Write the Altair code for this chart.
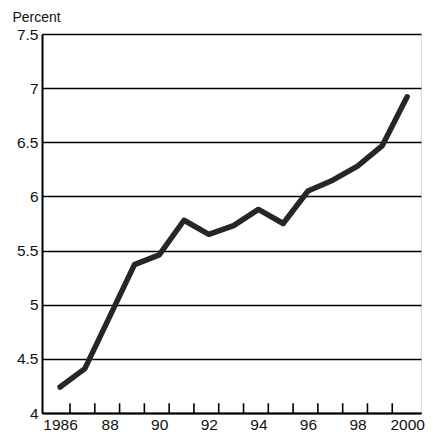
import altair as alt
import pandas as pd

years = [1986, 1987, 1988, 1989, 1990, 1991, 1992, 1993, 1994, 1995, 1996, 1997, 1998, 1999, 2000]
percent = [4.24, 4.41, 4.89, 5.37, 5.46, 5.78, 5.65, 5.73, 5.88, 5.75, 6.05, 6.15, 6.28, 6.47, 6.92]
tick_positions = [1986.4, 1987.4, 1988.4, 1989.4, 1990.4, 1991.4, 1992.4, 1993.4,
                  1994.4, 1995.4, 1996.4, 1997.4, 1998.4, 1999.4]
x_label_values = [1986, 1988, 1990, 1992, 1994, 1996, 1998, 2000]
y_values = [4, 4.5, 5, 5.5, 6, 6.5, 7, 7.5]

df = pd.DataFrame({"year": years, "percent": percent})
ticks_df = pd.DataFrame({"pos": tick_positions, "y0": [4.0] * len(tick_positions),
                         "y1": [4.09] * len(tick_positions)})

FONT = "Liberation Sans Narrow, Liberation Sans, Arial, sans-serif"
W, H = 379, 379

xscale = alt.Scale(domain=[1985.27, 2000.56], nice=False, zero=False)
yscale = alt.Scale(domain=[4, 7.5], nice=False, zero=False)

line = alt.Chart(df).mark_line(color="#262626", strokeWidth=5.5, strokeJoin="round", strokeCap="round").encode(
    x=alt.X("year:Q", scale=xscale,
            axis=alt.Axis(values=x_label_values, title=None, ticks=False, grid=False,
                          domain=True, domainColor="black", domainWidth=2,
                          labelExpr="datum.value == 1986 || datum.value == 2000 ? datum.value : slice(toString(datum.value), 2)",
                          labelFont=FONT, labelFontSize=15.5, labelColor="#111", labelPadding=4,
                          labelFlush=False, labelOverlap=False)),
    y=alt.Y("percent:Q", scale=yscale,
            axis=alt.Axis(values=y_values, format="~g", title="Percent", titleAngle=0,
                          titleAlign="left", titleBaseline="alphabetic", titleX=-30, titleY=-13,
                          titleFont=FONT, titleFontSize=14, titleFontWeight="normal", titleColor="#111",
                          ticks=False, grid=True, gridColor="black", gridWidth=1.6, gridOpacity=1,
                          domain=True, domainColor="black", domainWidth=2,
                          labelFont=FONT, labelFontSize=15.5, labelColor="#111", labelPadding=4,
                          labelFlush=False, labelOverlap=False)),
)

tick_marks = alt.Chart(ticks_df).mark_rule(color="black", strokeWidth=1.6).encode(
    x=alt.X("pos:Q", scale=xscale),
    y=alt.Y("y0:Q", scale=yscale),
    y2="y1:Q",
)

chart = alt.layer(tick_marks, line).properties(
    width=W, height=H,
    autosize=alt.AutoSizeParams(type="none"),
    padding={"left": 34, "top": 26, "right": 11, "bottom": 20},
).configure_view(stroke="black", strokeWidth=2).configure(background="white")

chart.save("out.html", embed_options={"renderer": "svg", "actions": False})
